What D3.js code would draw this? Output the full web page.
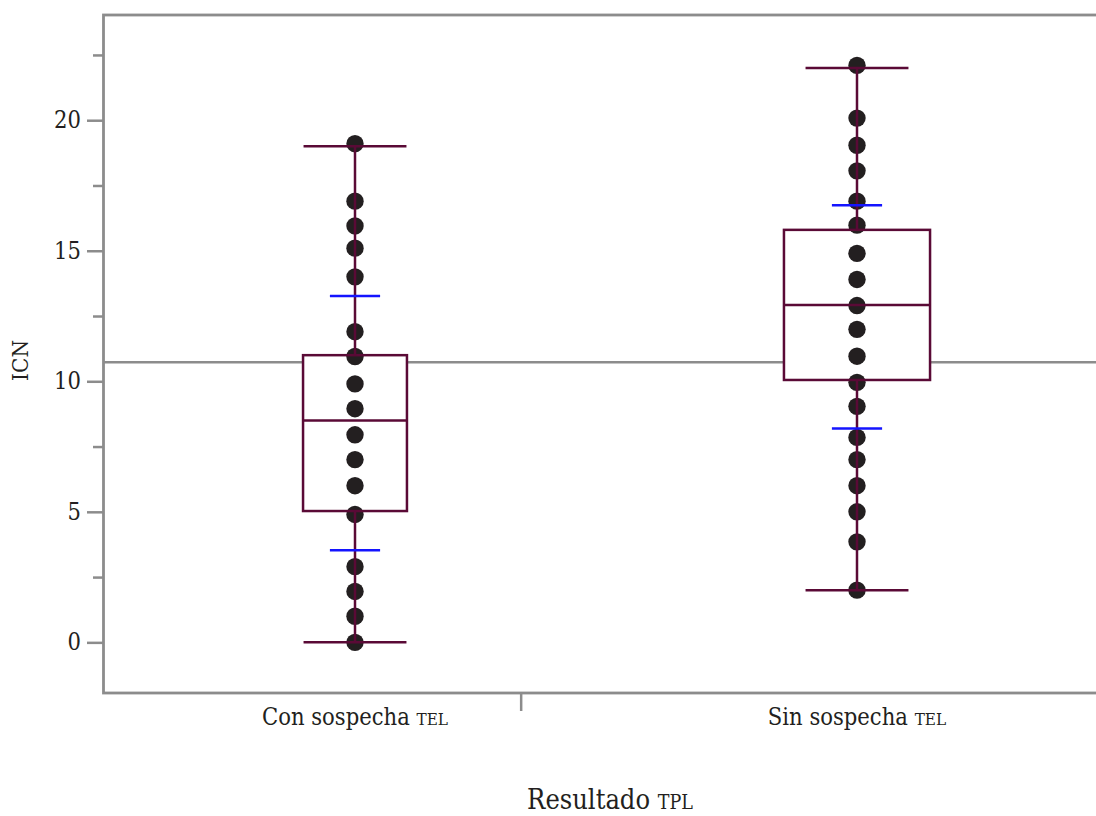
<!DOCTYPE html>
<html>
<head>
<meta charset="utf-8">
<script src="https://cdn.jsdelivr.net/npm/d3@7"></script>
<style>
  body { margin: 0; background: #fff; }
  svg { display: block; }
  text { font-family: "DejaVu Serif Condensed", "DejaVu Serif", serif; font-stretch: condensed; fill: #231f20; }
</style>
</head>
<body>
<script>
var width = 1096,
    height = 816;

// categories and values
var categoryNames = ["Con sospecha", "Sin sospecha"];
var categorySuffix = ["TEL", "TEL"];
var conValues = [19.1, 16.9, 15.95, 15.1, 14.0, 11.9, 10.95, 9.9, 8.95, 7.95, 7.0, 6.0, 4.9, 2.9, 1.95, 1.0, 0.0];
var sinValues = [22.1, 20.08, 19.04, 18.06, 16.9, 15.98, 14.9, 13.9, 12.9, 11.99, 10.96, 9.96, 9.04, 7.85, 7.0, 6.0, 5.0, 3.85, 2.0];
var q1 = [5.03, 10.05];
var medians = [8.5, 12.92];
var q3 = [11.0, 15.8];
var whiskerLow = [0, 2];
var whiskerHigh = [19, 22];
var meanMinusSd = [3.53, 8.19];
var meanPlusSd = [13.27, 16.74];
var grandMean = 10.73;
var yMajorTicks = [0, 5, 10, 15, 20];
var yMinorTicks = [-2.5, 2.5, 7.5, 12.5, 17.5, 22.5];

var groups = [conValues, sinValues];

var x = d3.scaleLinear().domain([0, 2]).range([104, 1108]);
var y = d3.scaleLinear().domain([-1.94, 24.03]).range([693, 15]);

var boxWidth = [0.207, 0.291],
    capWidth = 0.205,
    sdWidth = 0.1;

var gray = "#8c8c8c",
    maroon = "#5a0a36",
    blue = "#1414ff";

var svg = d3.select("body").append("svg")
    .attr("width", width)
    .attr("height", height);

// frame
svg.append("rect")
    .attr("x", x(0) - 0.5)
    .attr("y", y.range()[1])
    .attr("width", x(2) - x(0))
    .attr("height", y.range()[0] - y.range()[1])
    .attr("fill", "none")
    .attr("stroke", gray)
    .attr("stroke-width", 2.8);

// grand mean
svg.append("line")
    .attr("x1", x(0)).attr("x2", x(2))
    .attr("y1", y(grandMean)).attr("y2", y(grandMean))
    .attr("stroke", gray)
    .attr("stroke-width", 2.5);

// y axis
var yAxis = svg.append("g")
    .attr("transform", "translate(" + (x(0) - 1) + ",0)")
    .call(d3.axisLeft(y).tickValues(yMajorTicks).tickSize(16).tickPadding(6));
yAxis.attr("font-family", null).attr("font-size", null);
yAxis.select(".domain").remove();
yAxis.selectAll(".tick line").attr("stroke", gray).attr("stroke-width", 2.5);
yAxis.selectAll(".tick text").attr("font-size", 23.5).attr("fill", "#231f20");

var yMinor = svg.append("g")
    .attr("transform", "translate(" + (x(0) - 1) + ",0)")
    .call(d3.axisLeft(y).tickValues(yMinorTicks.filter(function(d) { return d > y.domain()[0]; })).tickSize(10).tickFormat(""));
yMinor.select(".domain").remove();
yMinor.selectAll(".tick line").attr("stroke", gray).attr("stroke-width", 2.5);

// x axis: group divider tick and category labels
var xAxis = svg.append("g")
    .attr("transform", "translate(0," + y.range()[0] + ")")
    .call(d3.axisBottom(x).tickValues([0.83]).tickSize(18).tickFormat(""));
xAxis.select(".domain").remove();
xAxis.selectAll(".tick line").attr("stroke", gray).attr("stroke-width", 2.5);

var catLabels = svg.append("g").selectAll("text")
    .data(categoryNames)
    .enter().append("text")
    .attr("x", function(d, i) { return x(i + 0.5); })
    .attr("y", 725)
    .attr("text-anchor", "middle")
    .attr("font-size", 23.5);
catLabels.append("tspan").text(function(d) { return d + " "; });
catLabels.append("tspan").attr("font-size", 17).text(function(d, i) { return categorySuffix[i]; });

// axis titles
var title = svg.append("text")
    .attr("x", x(1.008))
    .attr("y", 809)
    .attr("text-anchor", "middle")
    .attr("font-size", 27);
title.append("tspan").text("Resultado ");
title.append("tspan").attr("font-size", 19.5).text("TPL");

svg.append("text")
    .attr("transform", "translate(28," + y(10.8) + ") rotate(-90)")
    .attr("text-anchor", "middle")
    .attr("font-size", 22.5)
    .text("ICN");

// box fills
svg.append("g").selectAll("rect")
    .data(categoryNames)
    .enter().append("rect")
    .attr("x", function(d, i) { return x(i + 0.5 - boxWidth[i] / 2); })
    .attr("y", function(d, i) { return y(q3[i]); })
    .attr("width", function(d, i) { return x(boxWidth[i]) - x(0); })
    .attr("height", function(d, i) { return y(q1[i]) - y(q3[i]); })
    .attr("fill", "#fff");

// points
groups.forEach(function(vals, i) {
    svg.append("g").selectAll("circle")
        .data(vals)
        .enter().append("circle")
        .attr("cx", x(i + 0.5))
        .attr("cy", function(d) { return y(d); })
        .attr("r", 8.7)
        .attr("fill", "#231f20");
});

// box outlines, medians, whiskers, caps
var boxes = svg.append("g").selectAll("g")
    .data(categoryNames)
    .enter().append("g")
    .attr("stroke", maroon)
    .attr("stroke-width", 2.5)
    .attr("fill", "none");

boxes.append("rect")
    .attr("x", function(d, i) { return x(i + 0.5 - boxWidth[i] / 2); })
    .attr("y", function(d, i) { return y(q3[i]); })
    .attr("width", function(d, i) { return x(boxWidth[i]) - x(0); })
    .attr("height", function(d, i) { return y(q1[i]) - y(q3[i]); });

boxes.append("line")
    .attr("x1", function(d, i) { return x(i + 0.5 - boxWidth[i] / 2); })
    .attr("x2", function(d, i) { return x(i + 0.5 + boxWidth[i] / 2); })
    .attr("y1", function(d, i) { return y(medians[i]); })
    .attr("y2", function(d, i) { return y(medians[i]); });

boxes.append("line")
    .attr("x1", function(d, i) { return x(i + 0.5); })
    .attr("x2", function(d, i) { return x(i + 0.5); })
    .attr("y1", function(d, i) { return y(q3[i]); })
    .attr("y2", function(d, i) { return y(whiskerHigh[i]); });

boxes.append("line")
    .attr("x1", function(d, i) { return x(i + 0.5); })
    .attr("x2", function(d, i) { return x(i + 0.5); })
    .attr("y1", function(d, i) { return y(q1[i]); })
    .attr("y2", function(d, i) { return y(whiskerLow[i]); });

[whiskerHigh, whiskerLow].forEach(function(arr) {
    boxes.append("line")
        .attr("x1", function(d, i) { return x(i + 0.5 - capWidth / 2); })
        .attr("x2", function(d, i) { return x(i + 0.5 + capWidth / 2); })
        .attr("y1", function(d, i) { return y(arr[i]); })
        .attr("y2", function(d, i) { return y(arr[i]); });
});

// mean +/- sd marks
[meanPlusSd, meanMinusSd].forEach(function(arr) {
    svg.append("g").selectAll("line")
        .data(arr)
        .enter().append("line")
        .attr("x1", function(d, i) { return x(i + 0.5 - sdWidth / 2); })
        .attr("x2", function(d, i) { return x(i + 0.5 + sdWidth / 2); })
        .attr("y1", function(d) { return y(d); })
        .attr("y2", function(d) { return y(d); })
        .attr("stroke", blue)
        .attr("stroke-width", 2.5);
});
</script>
</body>
</html>
